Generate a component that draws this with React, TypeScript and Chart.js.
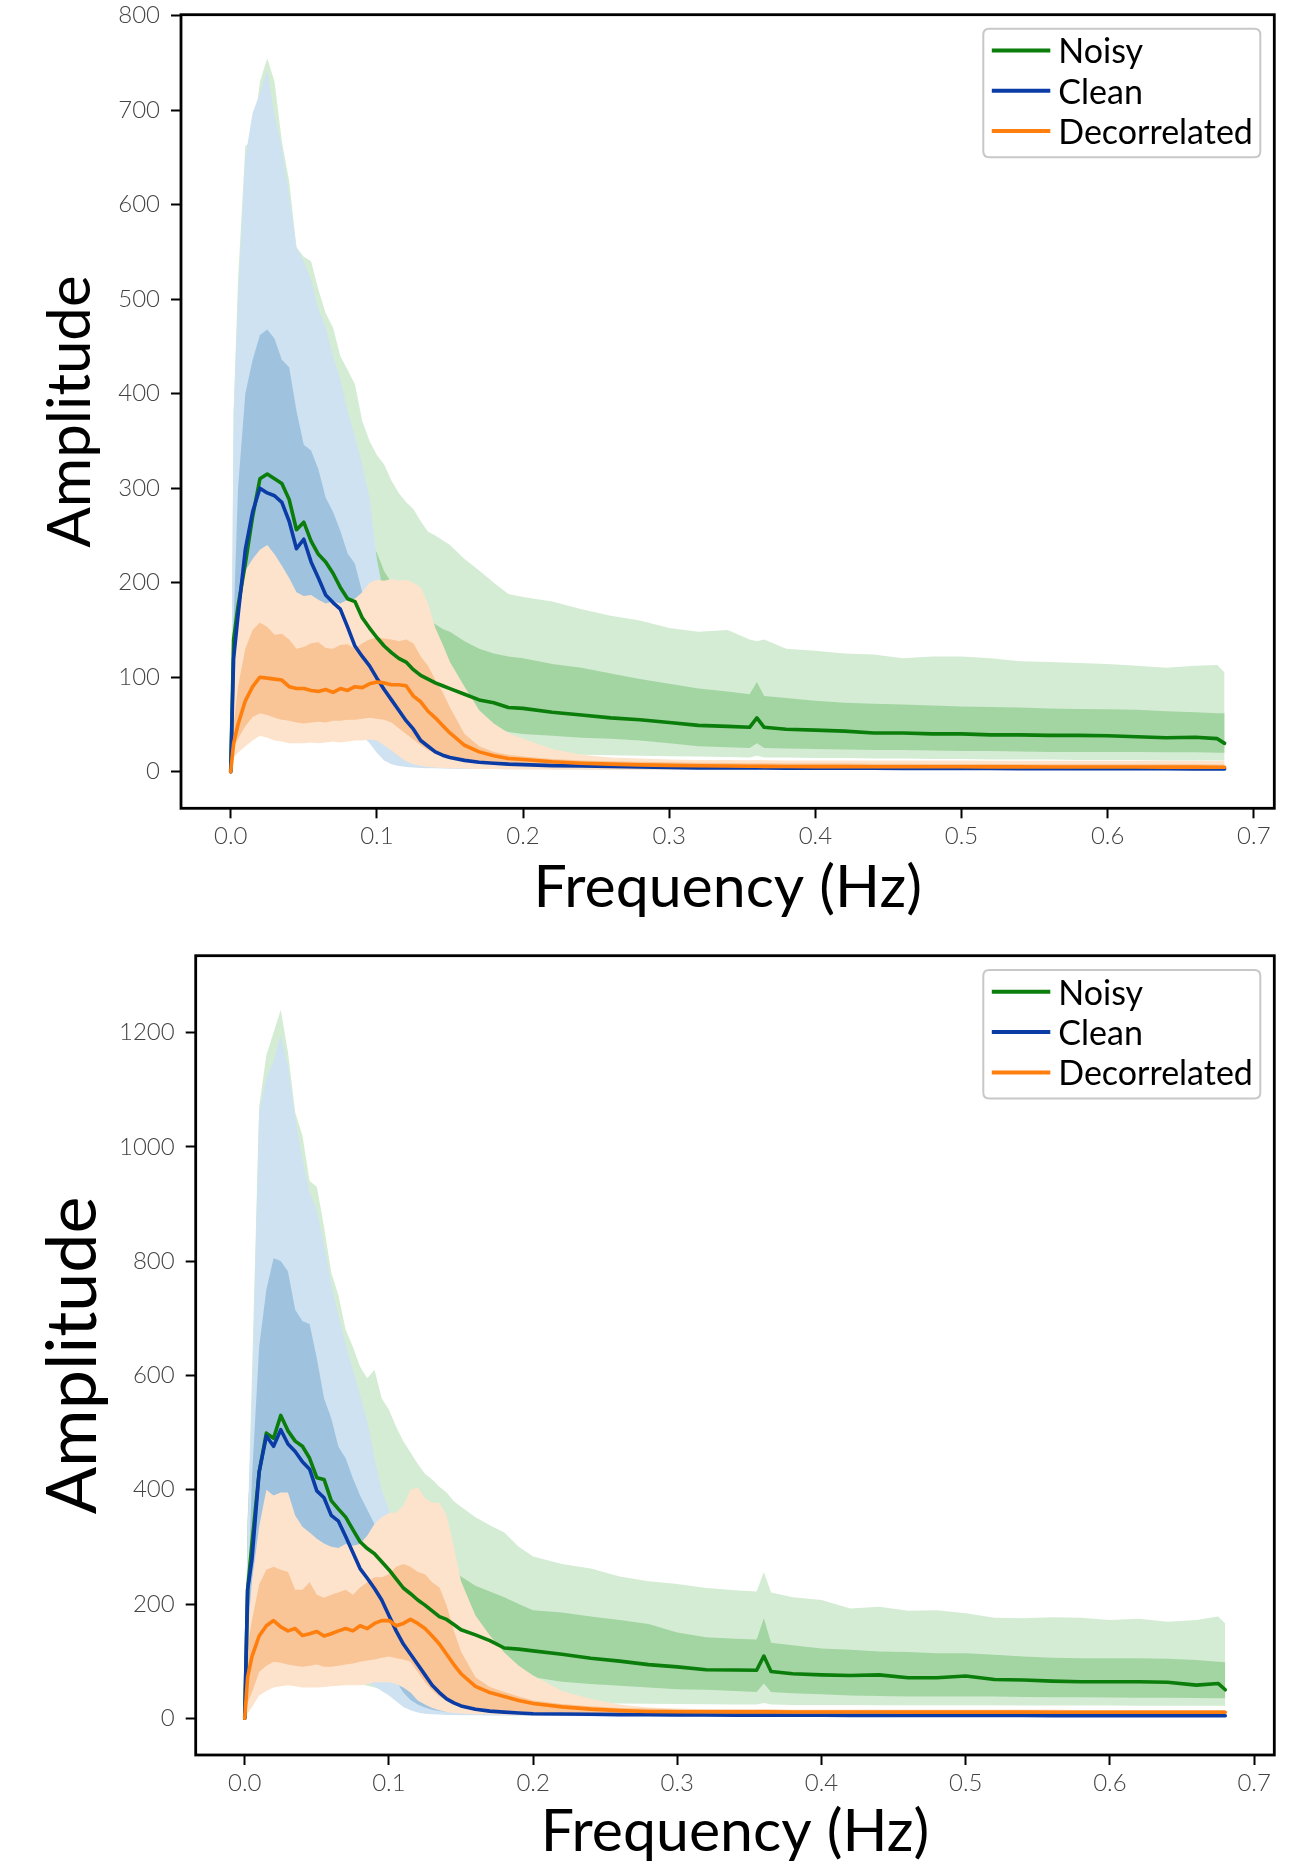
import React, { useEffect, useRef } from "react";
import { Chart, registerables } from "chart.js";

Chart.register(...registerables);

// ---------------- data ----------------
const FREQ = [
  0, 0.002, 0.005, 0.01, 0.015, 0.02, 0.025, 0.03,
  0.035, 0.04, 0.045, 0.05, 0.055, 0.06, 0.065, 0.07,
  0.075, 0.08, 0.085, 0.09, 0.095, 0.1, 0.105, 0.11,
  0.115, 0.12, 0.125, 0.13, 0.135, 0.14, 0.145, 0.15,
  0.16, 0.17, 0.18, 0.19, 0.2, 0.22, 0.24, 0.26,
  0.28, 0.3, 0.32, 0.34, 0.355, 0.36, 0.365, 0.38,
  0.4, 0.42, 0.44, 0.46, 0.48, 0.5, 0.52, 0.54,
  0.56, 0.58, 0.6, 0.62, 0.64, 0.66, 0.675, 0.68,
];

const X_TICKS = [0, 0.1, 0.2, 0.3, 0.4, 0.5, 0.6, 0.7];
const Y_TICKS_TOP = [0, 100, 200, 300, 400, 500, 600, 700, 800];
const Y_TICKS_BOTTOM = [0, 200, 400, 600, 800, 1000, 1200];

const SERIES_LABELS = ["Noisy", "Clean", "Decorrelated"];

// ---- top panel ----
const TOP_NOISY_MEAN = [
  0, 140, 175, 220, 270, 310, 315, 310,
  305, 288, 256, 264, 244, 230, 222, 210,
  195, 183, 180, 163, 152, 142, 133, 126,
  120, 116, 108, 102, 98, 94, 91, 88,
  82, 76, 73, 68, 67, 63, 60, 57,
  55, 52, 49, 48, 47, 57, 47, 45,
  44, 43, 41, 41, 40, 40, 39, 39,
  38.5, 38.5, 38, 37, 36, 36.5, 35, 30,
];
const TOP_NOISY_IN_HI = [
  0, 200, 280, 380, 440, 490, 500, 490,
  480, 450, 420, 410, 385, 370, 350, 330,
  310, 290, 275, 255, 245, 232, 212, 200,
  190, 182, 175, 168, 162, 156, 151, 148,
  138, 130, 125, 122, 120, 114, 110, 104,
  98, 93, 88, 85, 82, 95, 80, 78,
  75, 73, 72, 71, 70, 69, 68.5, 68,
  67, 66.5, 66, 65.5, 64, 63, 62, 62,
];
const TOP_NOISY_IN_LO = [
  0, 80, 100, 120, 140, 160, 160, 155,
  150, 140, 130, 128, 120, 115, 110, 105,
  100, 95, 92, 85, 80, 76, 72, 70,
  67, 65, 62, 60, 58, 57, 56, 55,
  55, 54, 47, 42, 40, 38, 36, 35,
  33, 30, 27, 26, 25, 30, 25, 24.5,
  24, 23.5, 23, 23, 22.5, 22, 22, 21.5,
  21, 21, 21, 21, 20.5, 20.5, 20, 20,
];
const TOP_NOISY_OUT_HI = [
  0, 380, 520, 662, 668, 730, 755, 730,
  667, 625, 555, 545, 540, 510, 485, 470,
  440, 425, 410, 371, 350, 335, 325, 308,
  295, 285, 278, 265, 254, 250, 245, 240,
  225, 213, 200, 188, 185, 180, 172, 165,
  160, 152, 148, 150, 140, 138, 140, 130,
  128, 125, 124, 120, 122, 122, 120, 117,
  116, 115, 114, 112, 110, 112, 113, 105,
];
const TOP_NOISY_OUT_LO = [
  0, 30, 40, 50, 55, 60, 60, 58,
  56, 54, 52, 50, 48, 46, 44, 42,
  40, 38, 36, 35, 33, 32, 31, 30,
  29, 28, 27, 26, 25.5, 25, 24, 24,
  23, 22, 21, 20, 19, 18.5, 18, 17.5,
  17, 16.5, 16, 15.5, 15, 17, 15, 15,
  14.5, 14.5, 14, 14, 13.5, 13.5, 13, 13,
  13, 12.5, 12.5, 12.5, 12, 12, 12, 12,
];
const TOP_CLEAN_MEAN = [
  0, 120, 165, 235, 275, 300, 295, 292,
  285, 265, 236, 246, 222, 205, 187, 179,
  172, 153, 133, 122, 112, 99, 87, 76,
  65, 54, 45, 33, 27, 21, 17.5, 15,
  12, 10, 9, 8, 7.5, 6.5, 6, 5.5,
  5, 4.5, 4, 4, 4, 4, 4, 3.8,
  3.8, 3.7, 3.6, 3.5, 3.5, 3.4, 3.4, 3.3,
  3.3, 3.2, 3.2, 3.1, 3.1, 3, 3, 3,
];
const TOP_CLEAN_IN_HI = [
  0, 160, 300, 400, 436, 462, 468, 458,
  436, 428, 382, 346, 340, 320, 290, 275,
  255, 231, 220, 190, 170, 150, 130, 110,
  95, 80, 65, 52, 42, 35, 28, 23,
  17, 14, 12, 11, 10, 9, 8, 7.5,
  7, 6.5, 6.2, 6, 6, 6, 6, 5.8,
  5.7, 5.6, 5.5, 5.4, 5.3, 5.2, 5.2, 5.1,
  5.1, 5, 5, 5, 4.9, 4.9, 4.8, 4.8,
];
const TOP_CLEAN_IN_LO = [
  0, 80, 100, 150, 175, 190, 190, 185,
  180, 170, 150, 155, 140, 132, 120, 112,
  105, 95, 85, 76, 60, 40, 30, 22,
  16, 12, 9, 7.5, 6.5, 6, 5.6, 5.3,
  5, 4.7, 4.5, 4.3, 4.2, 4, 3.8, 3.6,
  3.4, 3.2, 3, 2.9, 2.9, 2.9, 2.9, 2.8,
  2.8, 2.7, 2.7, 2.6, 2.6, 2.5, 2.5, 2.5,
  2.4, 2.4, 2.4, 2.3, 2.3, 2.3, 2.3, 2.3,
];
const TOP_CLEAN_OUT_HI = [
  0, 380, 500, 650, 697, 718, 742, 695,
  660, 610, 555, 540, 520, 490, 470, 440,
  415, 382, 355, 325, 290, 225, 185, 150,
  120, 95, 75, 60, 48, 40, 33, 28,
  20, 16, 14, 12.5, 11.5, 10, 9, 8.5,
  8, 7.5, 7.2, 7, 7, 7, 7, 6.8,
  6.7, 6.6, 6.5, 6.4, 6.3, 6.2, 6.2, 6.1,
  6.1, 6, 6, 6, 6, 6, 6, 6,
];
const TOP_CLEAN_OUT_LO = [
  0, 20, 40, 70, 90, 100, 100, 95,
  92, 88, 80, 80, 75, 70, 65, 60,
  55, 50, 44, 38, 30, 20, 12, 8,
  6, 5, 4.5, 4, 3.8, 3.6, 3.4, 3.2,
  3, 2.9, 2.8, 2.7, 2.6, 2.5, 2.4, 2.3,
  2.2, 2.1, 2, 2, 2, 2, 2, 2,
  2, 1.9, 1.9, 1.8, 1.8, 1.8, 1.7, 1.7,
  1.7, 1.6, 1.6, 1.6, 1.5, 1.5, 1.5, 1.5,
];
const TOP_DECOR_MEAN = [
  0, 30, 50, 75, 90, 100, 99, 98,
  97, 90, 88, 88, 86, 85, 87, 84,
  88, 86, 90, 89, 93, 95, 94, 92,
  92, 91, 80, 74, 64, 57, 49, 41,
  28, 21, 17, 14, 13, 10.5, 9, 8,
  7.2, 6.7, 6.3, 6, 5.8, 5.8, 5.7, 5.6,
  5.4, 5.4, 5.3, 5.3, 5.2, 5.2, 5.1, 5.1,
  5, 5, 5, 5, 4.9, 4.9, 4.8, 4.8,
];
const TOP_DECOR_IN_HI = [
  0, 50, 90, 130, 150, 158, 153, 145,
  146, 140, 130, 132, 136, 137, 131, 130,
  134, 135, 130, 136, 140, 142, 141, 140,
  138, 140, 136, 122, 112, 97, 84, 68,
  40, 27, 21, 18, 16, 13.5, 12, 11,
  10.5, 10, 9.5, 9.2, 9, 9, 9, 8.8,
  8.7, 8.6, 8.5, 8.4, 8.3, 8.2, 8.1, 8,
  8, 8, 7.9, 7.9, 7.8, 7.8, 7.7, 7.7,
];
const TOP_DECOR_IN_LO = [
  0, 25, 35, 48, 58, 62, 60, 57,
  55, 54, 52, 51, 52, 53, 52, 54,
  54, 55, 55, 56, 57, 56, 55, 52,
  46, 40, 34, 28, 23, 19, 16, 14,
  11, 9, 8, 7, 6.5, 6, 5.5, 5.2,
  5, 4.8, 4.6, 4.5, 4.4, 4.4, 4.4, 4.3,
  4.3, 4.2, 4.2, 4.1, 4.1, 4, 4, 4,
  4, 4, 3.9, 3.9, 3.9, 3.8, 3.8, 3.8,
];
const TOP_DECOR_OUT_HI = [
  0, 100, 160, 213, 225, 235, 240, 230,
  218, 205, 190, 186, 187, 182, 178, 180,
  178, 182, 183, 190, 200, 203, 202, 204,
  202, 203, 200, 195, 178, 152, 135, 116,
  90, 65, 51, 41, 35, 24, 18, 15,
  14, 13, 12.5, 12.5, 12.2, 12.5, 12.2, 12,
  12, 12, 12, 11.8, 11.8, 11.8, 11.7, 11.7,
  11.6, 11.6, 11.5, 11.5, 11.5, 11.4, 11.4, 11.4,
];
const TOP_DECOR_OUT_LO = [
  0, 15, 20, 27, 33, 38, 36, 33,
  32, 30, 30, 30, 31, 30, 31, 32,
  31, 32, 33, 33, 34, 33, 28, 22,
  16, 11, 8, 6, 5, 4.5, 4, 3.7,
  3.3, 3, 2.8, 2.6, 2.5, 2.4, 2.3, 2.2,
  2.1, 2, 2, 2, 2, 2, 2, 2,
  2, 2, 2, 2, 2, 2, 2, 2,
  2, 2, 2, 2, 2, 2, 2, 2,
];

// ---- bottom panel ----
const BOT_NOISY_MEAN = [
  0, 225, 305, 431, 499, 490, 530, 503,
  485, 476, 455, 421, 418, 381, 366, 352,
  330, 309, 297, 288, 274, 260, 244, 228,
  218, 207, 198, 188, 178, 173, 164, 155,
  146, 136, 123, 121, 118, 112, 105, 100,
  94, 90, 85, 84.5, 84, 109, 82, 78,
  76, 75, 76, 71, 71, 74, 68, 67,
  65, 64, 64, 64, 63, 58, 61, 50,
];
const BOT_NOISY_IN_HI = [
  0, 350, 500, 680, 780, 830, 840, 820,
  790, 760, 720, 680, 640, 610, 580, 545,
  515, 490, 465, 440, 385, 355, 330, 320,
  310, 300, 292, 285, 275, 268, 258, 248,
  232, 222, 212, 200, 189, 185, 178, 172,
  165, 150, 142, 139, 138, 175, 132, 128,
  122, 120, 117, 116, 114, 114, 111, 108,
  106, 105, 105, 105, 104, 102, 99, 98,
];
const BOT_NOISY_IN_LO = [
  0, 120, 160, 200, 240, 260, 265, 255,
  245, 235, 225, 215, 200, 190, 180, 170,
  162, 155, 148, 140, 133, 127, 122, 118,
  114, 110, 107, 104, 101, 99, 97, 95,
  94, 92, 85, 77, 72, 64, 60, 57,
  54, 51, 50, 48, 46, 61, 46, 44,
  42, 40, 39, 38, 38, 38, 38, 37.5,
  37, 37, 36.5, 36, 36, 35.5, 35, 35,
];
const BOT_NOISY_OUT_HI = [
  0, 330, 600, 1070, 1160, 1200, 1240, 1165,
  1060, 1020, 940, 930, 860, 780, 740, 680,
  650, 615, 595, 610, 560, 540, 510, 485,
  465, 445, 428, 418, 405, 395, 380, 370,
  352, 338, 325, 300, 283, 270, 262, 248,
  240, 235, 228, 224, 222, 256, 220, 212,
  207, 192, 195, 188, 189, 184, 176, 175,
  177, 176, 172, 174, 169, 172, 178, 166,
];
const BOT_NOISY_OUT_LO = [
  0, 50, 70, 90, 100, 105, 105, 100,
  96, 92, 88, 84, 80, 76, 72, 68,
  64, 60, 57, 54, 51, 48, 46, 44,
  42, 40, 38, 37, 36, 35, 34, 33,
  32, 31, 30, 29, 28, 27, 26.5, 26,
  25.5, 25, 24.5, 24, 24, 27, 24, 23.5,
  23.5, 23.5, 23, 23, 23, 23, 23, 22.5,
  22.5, 22.5, 22.5, 22, 22, 22, 22, 22,
];
const BOT_CLEAN_MEAN = [
  0, 225, 278, 431, 494, 476, 505, 480,
  467, 449, 436, 398, 386, 355, 345, 318,
  290, 262, 245, 227, 207, 180, 153, 130,
  112, 94, 76, 58, 45, 34, 27, 21.6,
  16, 12.6, 10.8, 9.4, 8, 7.5, 7, 6.5,
  6.3, 6, 5.8, 5.6, 5.5, 5.5, 5.5, 5.4,
  5.3, 5.2, 5.1, 5, 5, 4.9, 4.8, 4.8,
  4.7, 4.7, 4.6, 4.6, 4.6, 4.5, 4.5, 4.5,
];
const BOT_CLEAN_IN_HI = [
  0, 200, 420, 650, 750, 805, 800, 782,
  715, 695, 690, 630, 560, 525, 475, 455,
  420, 390, 365, 340, 300, 260, 225, 190,
  160, 130, 105, 85, 68, 55, 45, 37,
  27, 21, 18, 16, 14, 12.5, 11.5, 11,
  10.5, 10, 9.5, 9.2, 9, 9, 9, 8.8,
  8.6, 8.4, 8.2, 8, 7.8, 7.6, 7.5, 7.4,
  7.3, 7.2, 7.1, 7, 7, 7, 7, 7,
];
const BOT_CLEAN_IN_LO = [
  0, 120, 170, 260, 300, 320, 325, 310,
  300, 285, 275, 255, 240, 225, 205, 195,
  180, 165, 150, 135, 115, 90, 65, 45,
  32, 24, 19, 15, 13, 11.5, 10.5, 9.8,
  9, 8, 7.2, 6.6, 6, 5.5, 5.2, 5,
  4.8, 4.6, 4.4, 4.3, 4.2, 4.2, 4.2, 4.1,
  4, 4, 3.9, 3.9, 3.8, 3.8, 3.7, 3.7,
  3.6, 3.6, 3.6, 3.5, 3.5, 3.5, 3.5, 3.5,
];
const BOT_CLEAN_OUT_HI = [
  0, 330, 560, 1060, 1120, 1150, 1195, 1140,
  1050, 980, 920, 890, 830, 760, 705, 655,
  610, 565, 520, 455, 400, 365, 300, 240,
  190, 150, 120, 95, 75, 60, 50, 42,
  32, 26, 22, 19, 17, 15, 13.5, 12.5,
  12, 11, 10.5, 10.2, 10, 10, 10, 9.8,
  9.7, 9.6, 9.5, 9.4, 9.3, 9.2, 9.1, 9,
  9, 9, 9, 9, 9, 9, 9, 9,
];
const BOT_CLEAN_OUT_LO = [
  0, 40, 70, 110, 140, 160, 165, 158,
  150, 142, 135, 125, 115, 105, 96, 88,
  80, 72, 64, 56, 48, 40, 30, 20,
  14, 10, 8, 7, 6.5, 6, 5.8, 5.5,
  5.2, 5, 4.7, 4.5, 4.3, 4, 3.8, 3.6,
  3.4, 3.2, 3, 3, 3, 3, 3, 2.9,
  2.8, 2.8, 2.7, 2.7, 2.6, 2.6, 2.5, 2.5,
  2.5, 2.4, 2.4, 2.4, 2.3, 2.3, 2.3, 2.3,
];
const BOT_DECOR_MEAN = [
  0, 72, 108, 144, 162, 171, 160, 153,
  157, 145, 148, 152, 144, 148, 153, 157,
  153, 162, 157, 166, 171, 171, 162, 166,
  173, 166, 157, 144, 130, 112, 94, 78,
  56, 45, 38, 31, 26, 20, 16, 13.5,
  12, 11.5, 11.5, 11.3, 11.2, 11.2, 11.2, 11.1,
  11, 11, 11, 10.9, 10.9, 10.8, 10.8, 10.8,
  10.7, 10.7, 10.7, 10.6, 10.6, 10.5, 10.5, 10.5,
];
const BOT_DECOR_IN_HI = [
  0, 126, 171, 234, 260, 265, 260, 256,
  225, 225, 238, 216, 211, 216, 220, 225,
  216, 229, 238, 247, 247, 252, 265, 270,
  265, 256, 252, 238, 229, 198, 153, 117,
  72, 55, 46, 38, 31, 25, 21, 18,
  17, 16, 15.5, 15.3, 15.2, 15.2, 15.2, 15.1,
  15, 15, 15, 15, 14.9, 14.9, 14.8, 14.8,
  14.8, 14.7, 14.7, 14.7, 14.6, 14.6, 14.6, 14.6,
];
const BOT_DECOR_IN_LO = [
  0, 27, 45, 81, 92, 99, 97, 94,
  92, 90, 92, 94, 90, 90, 92, 94,
  96, 99, 101, 103, 106, 108, 105, 103,
  99, 81, 63, 49, 38, 31, 26, 22,
  16, 14, 12.6, 11.5, 10.8, 10, 9.5, 9,
  8.6, 8.3, 8, 7.8, 7.7, 7.7, 7.7, 7.6,
  7.5, 7.5, 7.4, 7.4, 7.3, 7.3, 7.2, 7.2,
  7.2, 7.1, 7.1, 7.1, 7, 7, 7, 7,
];
const BOT_DECOR_OUT_HI = [
  0, 150, 240, 335, 400, 390, 395, 395,
  355, 335, 325, 314, 306, 300, 298, 305,
  302, 305, 320, 340, 352, 359, 360, 372,
  400, 404, 385, 377, 377, 355, 300, 240,
  180, 145, 115, 92, 75, 48, 34, 24,
  19, 17, 16, 15.5, 15, 16, 15, 14.5,
  14.5, 14.2, 14, 14, 13.8, 13.8, 13.6, 13.6,
  13.5, 13.5, 13.5, 13.4, 13.4, 13.4, 13.3, 13.3,
];
const BOT_DECOR_OUT_LO = [
  0, 9, 20, 40, 48, 54, 56, 58,
  56, 54, 54, 54, 55, 56, 57, 58,
  58, 58, 60, 63, 63, 63, 60, 54,
  45, 31, 24, 18, 14, 11, 9.5, 8.5,
  7, 6.5, 6, 5.5, 5.4, 5, 4.8, 4.6,
  4.4, 4.2, 4, 4, 4, 4, 4, 3.9,
  3.9, 3.8, 3.8, 3.8, 3.7, 3.7, 3.7, 3.6,
  3.6, 3.6, 3.6, 3.6, 3.6, 3.6, 3.6, 3.6,
];

// ---------------- styles ----------------
const GREEN = "#0b7d0b";
const BLUE = "#0b3ca6";
const ORANGE = "#ff7f0e";
const NOISY_OUT = "#d4ecd4";
const NOISY_IN = "#a3d5a3";
const CLEAN_OUT = "#cfe2f2";
const CLEAN_IN = "#9fc3df";
const DECOR_OUT = "#fde3cb";
const DECOR_IN = "#f9c496";
const FONT = "Lato, 'Open Sans', 'DejaVu Sans', sans-serif";

type Band = { mean: number[]; inHi: number[]; inLo: number[]; outHi: number[]; outLo: number[] };

type PanelSpec = {
  canvasH: number;
  pageTop: number;
  yAxisW: number;
  padTop: number;
  xAxisH: number;
  yMin: number;
  yMax: number;
  yTicks: number[];
  yTitleSize: number;
  yTitlePad: number;
  xTitleSize: number;
  xTitlePadBottom: number;
  legendTop: number;
  noisy: Band;
  clean: Band;
  decor: Band;
};

const TOP_SPEC: PanelSpec = {
  canvasH: 935,
  pageTop: 0,
  yAxisW: 181,
  padTop: 14.7,
  xAxisH: 126.7,
  yMin: -38.7,
  yMax: 801,
  yTicks: Y_TICKS_TOP,
  yTitleSize: 60,
  yTitlePad: 35,
  xTitleSize: 59,
  xTitlePadBottom: 12,
  legendTop: 14,
  noisy: { mean: TOP_NOISY_MEAN, inHi: TOP_NOISY_IN_HI, inLo: TOP_NOISY_IN_LO, outHi: TOP_NOISY_OUT_HI, outLo: TOP_NOISY_OUT_LO },
  clean: { mean: TOP_CLEAN_MEAN, inHi: TOP_CLEAN_IN_HI, inLo: TOP_CLEAN_IN_LO, outHi: TOP_CLEAN_OUT_HI, outLo: TOP_CLEAN_OUT_LO },
  decor: { mean: TOP_DECOR_MEAN, inHi: TOP_DECOR_IN_HI, inLo: TOP_DECOR_IN_LO, outHi: TOP_DECOR_OUT_HI, outLo: TOP_DECOR_OUT_LO },
};

const BOTTOM_SPEC: PanelSpec = {
  canvasH: 934,
  pageTop: 935,
  yAxisW: 195.7,
  padTop: 20.7,
  xAxisH: 114,
  yMin: -64.2,
  yMax: 1334.4,
  yTicks: Y_TICKS_BOTTOM,
  yTitleSize: 70,
  yTitlePad: 31,
  xTitleSize: 59,
  xTitlePadBottom: 2,
  legendTop: 14.3,
  noisy: { mean: BOT_NOISY_MEAN, inHi: BOT_NOISY_IN_HI, inLo: BOT_NOISY_IN_LO, outHi: BOT_NOISY_OUT_HI, outLo: BOT_NOISY_OUT_LO },
  clean: { mean: BOT_CLEAN_MEAN, inHi: BOT_CLEAN_IN_HI, inLo: BOT_CLEAN_IN_LO, outHi: BOT_CLEAN_OUT_HI, outLo: BOT_CLEAN_OUT_LO },
  decor: { mean: BOT_DECOR_MEAN, inHi: BOT_DECOR_IN_HI, inLo: BOT_DECOR_IN_LO, outHi: BOT_DECOR_OUT_HI, outLo: BOT_DECOR_OUT_LO },
};

function pts(ys: number[]) {
  return FREQ.map((x, i) => ({ x, y: ys[i] }));
}

function buildDatasets(spec: PanelSpec) {
  const ds: any[] = [];
  const line = (label: string, data: number[], color: string, order: number) => ({
    label,
    data: pts(data),
    borderColor: color,
    backgroundColor: color,
    borderWidth: 3.6,
    pointRadius: 0,
    fill: false,
    tension: 0,
    order,
    borderJoinStyle: "round",
    borderCapStyle: "round",
  });
  ds.push(line(SERIES_LABELS[0], spec.noisy.mean, GREEN, 2));
  ds.push(line(SERIES_LABELS[1], spec.clean.mean, BLUE, 1));
  ds.push(line(SERIES_LABELS[2], spec.decor.mean, ORANGE, 0));
  const band = (hi: number[], lo: number[], color: string, order: number) => {
    const loIndex = ds.length + 1;
    ds.push({
      label: "_band",
      data: pts(hi),
      borderWidth: 0,
      borderColor: "rgba(0,0,0,0)",
      backgroundColor: color,
      pointRadius: 0,
      tension: 0,
      fill: loIndex,
      order,
    });
    ds.push({
      label: "_lower",
      data: pts(lo),
      borderWidth: 0,
      borderColor: "rgba(0,0,0,0)",
      backgroundColor: "rgba(0,0,0,0)",
      pointRadius: 0,
      tension: 0,
      fill: false,
      order: 30,
    });
  };
  band(spec.noisy.outHi, spec.noisy.outLo, NOISY_OUT, 15);
  band(spec.noisy.inHi, spec.noisy.inLo, NOISY_IN, 14);
  band(spec.clean.outHi, spec.clean.outLo, CLEAN_OUT, 13);
  band(spec.clean.inHi, spec.clean.inLo, CLEAN_IN, 12);
  band(spec.decor.outHi, spec.decor.outLo, DECOR_OUT, 11);
  band(spec.decor.inHi, spec.decor.inLo, DECOR_IN, 10);
  return ds;
}

const framePlugin = {
  id: "frame",
  afterDatasetsDraw(chart: any) {
    const { ctx, chartArea } = chart;
    ctx.save();
    ctx.strokeStyle = "#000";
    ctx.lineWidth = 2.8;
    ctx.strokeRect(chartArea.left, chartArea.top, chartArea.right - chartArea.left, chartArea.bottom - chartArea.top);
    ctx.restore();
  },
};

function makeLegendPlugin(spec: PanelSpec) {
  return {
    id: "insideLegend",
    afterDraw(chart: any) {
      const { ctx, chartArea } = chart;
      const items = chart.data.datasets.filter((d: any) => !String(d.label).startsWith("_"));
      const w = 277;
      const h = 128.6;
      const x0 = chartArea.right - 14 - w;
      const y0 = chartArea.top + spec.legendTop;
      const r = 6;
      ctx.save();
      ctx.beginPath();
      ctx.moveTo(x0 + r, y0);
      ctx.lineTo(x0 + w - r, y0);
      ctx.quadraticCurveTo(x0 + w, y0, x0 + w, y0 + r);
      ctx.lineTo(x0 + w, y0 + h - r);
      ctx.quadraticCurveTo(x0 + w, y0 + h, x0 + w - r, y0 + h);
      ctx.lineTo(x0 + r, y0 + h);
      ctx.quadraticCurveTo(x0, y0 + h, x0, y0 + h - r);
      ctx.lineTo(x0, y0 + r);
      ctx.quadraticCurveTo(x0, y0, x0 + r, y0);
      ctx.closePath();
      ctx.fillStyle = "rgba(255,255,255,0.85)";
      ctx.fill();
      ctx.strokeStyle = "#c8c8c8";
      ctx.lineWidth = 2;
      ctx.stroke();
      items.forEach((d: any, i: number) => {
        const y = y0 + 21.8 + i * 40.3;
        ctx.beginPath();
        ctx.strokeStyle = d.borderColor;
        ctx.lineWidth = 4;
        ctx.moveTo(x0 + 8.5, y);
        ctx.lineTo(x0 + 67, y);
        ctx.stroke();
        ctx.fillStyle = "#000";
        ctx.font = `34px ${FONT}`;
        ctx.textBaseline = "middle";
        ctx.textAlign = "left";
        ctx.fillText(d.label, x0 + 75, y + 2);
      });
      ctx.restore();
    },
  };
}

function buildConfig(spec: PanelSpec): any {
  return {
    type: "line",
    data: { datasets: buildDatasets(spec) },
    plugins: [framePlugin, makeLegendPlugin(spec)],
    options: {
      responsive: false,
      animation: false,
      events: [],
      layout: { padding: { top: spec.padTop, right: 37.7, bottom: 0, left: 0 } },
      plugins: {
        legend: { display: false },
        tooltip: { enabled: false },
        title: { display: false },
      },
      scales: {
        x: {
          type: "linear",
          min: -0.034,
          max: 0.714,
          afterFit: (axis: any) => {
            axis.height = spec.xAxisH;
          },
          afterBuildTicks: (axis: any) => {
            axis.ticks = X_TICKS.map((v) => ({ value: v }));
          },
          border: { display: false },
          grid: {
            display: true,
            drawOnChartArea: false,
            drawTicks: true,
            tickLength: 10,
            tickWidth: 2,
            tickColor: "#000",
          },
          ticks: {
            autoSkip: false,
            maxRotation: 0,
            minRotation: 0,
            padding: 4,
            color: "#444",
            font: { family: FONT, size: 24, weight: "300" },
            callback: (v: any) => Number(v).toFixed(1),
          },
          title: {
            display: true,
            text: "Frequency (Hz)",
            color: "#000",
            font: { family: FONT, size: spec.xTitleSize },
            padding: { top: 0, bottom: spec.xTitlePadBottom },
          },
        },
        y: {
          type: "linear",
          min: spec.yMin,
          max: spec.yMax,
          afterFit: (axis: any) => {
            axis.width = spec.yAxisW;
          },
          afterBuildTicks: (axis: any) => {
            axis.ticks = spec.yTicks.map((v) => ({ value: v }));
          },
          border: { display: false },
          grid: {
            display: true,
            drawOnChartArea: false,
            drawTicks: true,
            tickLength: 10,
            tickWidth: 2,
            tickColor: "#000",
          },
          ticks: {
            autoSkip: false,
            padding: 11,
            color: "#444",
            font: { family: FONT, size: 24, weight: "300", lineHeight: 0.25 },
            callback: (v: any) => String(v),
          },
          title: {
            display: true,
            text: "Amplitude",
            color: "#000",
            font: { family: FONT, size: spec.yTitleSize },
            padding: { top: spec.yTitlePad, bottom: 0 },
          },
        },
      },
    },
  };
}

function Panel({ spec }: { spec: PanelSpec }) {
  const ref = useRef<HTMLCanvasElement>(null);
  useEffect(() => {
    if (!ref.current) return;
    const chart = new Chart(ref.current, buildConfig(spec));
    return () => chart.destroy();
  }, [spec]);
  return (
    <canvas
      ref={ref}
      width={1312}
      height={spec.canvasH}
      style={{ position: "absolute", left: 0, top: spec.pageTop, width: 1312, height: spec.canvasH, display: "block" }}
    />
  );
}

export default function App() {
  return (
    <div style={{ position: "absolute", left: 0, top: 0, width: 1312, height: 1869, background: "#fff", overflow: "hidden" }}>
      <Panel spec={TOP_SPEC} />
      <Panel spec={BOTTOM_SPEC} />
    </div>
  );
}
